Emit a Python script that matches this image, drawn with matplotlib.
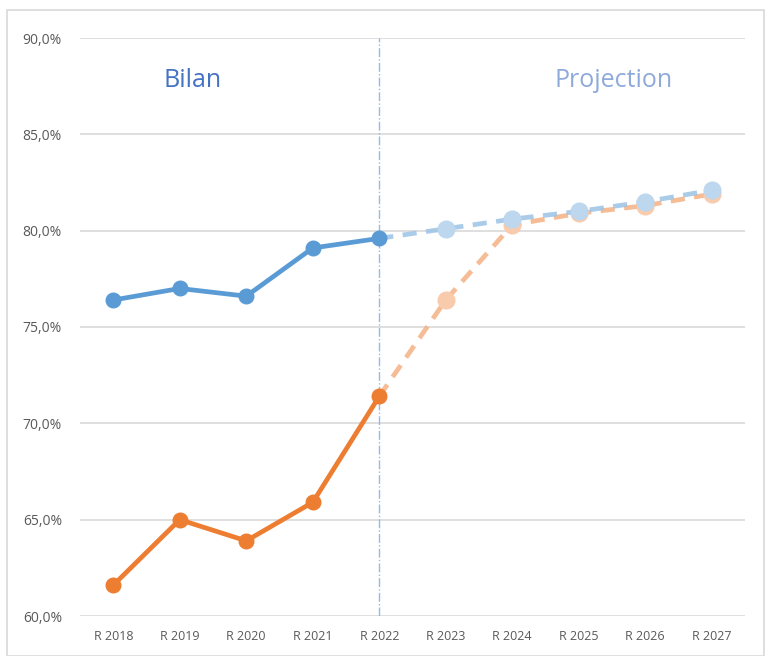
import matplotlib.pyplot as plt
from matplotlib.patches import Rectangle

plt.rcParams['font.family'] = ['Open Sans', 'DejaVu Sans']

years = ['R 2018', 'R 2019', 'R 2020', 'R 2021', 'R 2022',
         'R 2023', 'R 2024', 'R 2025', 'R 2026', 'R 2027']
# bilan (réalisé) 2018-2022
blue_bilan = [76.4, 77.0, 76.6, 79.1, 79.6]
orange_bilan = [61.6, 65.0, 63.9, 65.9, 71.4]
# projection 2022-2027 (starts from the last real value)
blue_proj = [79.6, 80.1, 80.6, 81.0, 81.5, 82.1]
orange_proj = [71.4, 76.4, 80.3, 80.9, 81.3, 81.9]
yticks = [60, 65, 70, 75, 80, 85, 90]

W, H = 765, 656
fig = plt.figure(figsize=(W / 100, H / 100), dpi=100)
ax = fig.add_axes([80 / W, 1 - 616 / H, 665 / W, 578 / H])

x = list(range(len(years)))
xb = x[:5]
xp = x[4:]

# grid
for v in yticks:
    ax.axhline(v, color='#d9d9d9', lw=1.2, zorder=0)

# séparation bilan / projection
ax.axvline(4, color='#8fbde8', lw=1.0, ls='-.', zorder=1)

# projections (dashed, lighter)
ax.plot(xp, orange_proj, color='#f4b183', lw=3.4, ls=(0, (3, 2)), zorder=2, alpha=0.85)
ax.plot(xp[1:], orange_proj[1:], 'o', color='#f8cbad', ms=12, zorder=3)
ax.plot(xp, blue_proj, color='#9dc3e6', lw=3.4, ls=(0, (3, 2)), zorder=4, alpha=0.85)
ax.plot(xp[1:], blue_proj[1:], 'o', color='#bdd7ee', ms=12, zorder=5)

# bilan
ax.plot(xb, blue_bilan, color='#5b9bd5', lw=3.4, marker='o', ms=10.5, zorder=6)
ax.plot(xb, orange_bilan, color='#ed7d31', lw=3.4, marker='o', ms=10.5, zorder=6)

ax.text(1.2, 87.8, 'Bilan', color='#4472c4', fontsize=18, ha='center', va='center')
ax.text(7.52, 87.8, 'Projection', color='#8eaadb', fontsize=18, ha='center', va='center')

ax.set_xlim(-0.5, 9.5)
ax.set_ylim(60, 90)
ax.set_xticks(x)
ax.set_xticklabels(years)
ax.set_yticks(yticks)
ax.set_yticklabels(['{:.1f}%'.format(v).replace('.', ',') for v in yticks])
ax.tick_params(length=0, colors='#595959')
ax.tick_params(axis='y', pad=13, labelsize=10)
ax.tick_params(axis='x', pad=10, labelsize=9)
for s in ax.spines.values():
    s.set_visible(False)

# cadre du graphique
fig.patches.append(Rectangle((7 / W, 0), (W - 8) / W, 1 - 9.5 / H,
                             transform=fig.transFigure, fill=False,
                             edgecolor='#d9d9d9', lw=1.2))

fig.savefig('out.png', dpi=100)
